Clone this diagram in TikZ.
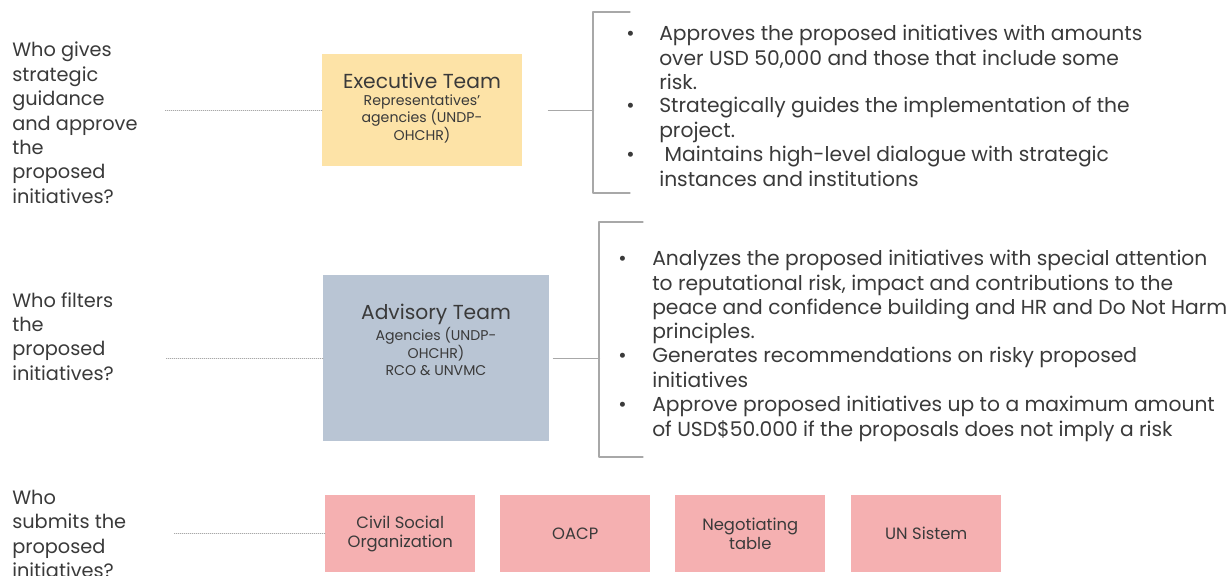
\documentclass[tikz,border=0pt]{standalone}
\usepackage{fontspec}
\setmainfont{Poppins}
\usetikzlibrary{positioning}
\definecolor{ink}{HTML}{3A3A3A}
\definecolor{rulegray}{HTML}{A8A8A8}
\definecolor{execfill}{HTML}{FDE3A7}
\definecolor{advfill}{HTML}{B9C5D4}
\definecolor{subfill}{HTML}{F5B0B1}
\tikzset{
  every picture/.style={line join=round, line cap=round, text=ink},
  question/.style={anchor=north west, align=left, inner sep=0pt, font=\fontsize{14.5}{18.3}\selectfont},
  teambox/.style={draw=none, inner sep=0pt, anchor=north west},
  teamtitle/.style={inner sep=0pt, align=center, font=\fontsize{15.2}{17}\selectfont},
  teamsub/.style={inner sep=0pt, align=center, font=\fontsize{10.6}{13}\selectfont},
  source/.style={fill=subfill, anchor=north west, inner sep=0pt, minimum width=112.5pt, minimum height=57.75pt, align=center, font=\fontsize{12.3}{14.3}\selectfont},
  bullet/.style={anchor=north west, inner sep=0pt, font=\fontsize{15.2}{18.3}\selectfont},
  duty/.style={anchor=north west, inner sep=0pt, align=left, font=\fontsize{15.2}{18.3}\selectfont},
  guide/.style={rulegray, densely dotted, line width=0.5pt},
  link/.style={rulegray, line width=0.9pt},
}
\newcommand{\bulletmark}{\vphantom{Ahl}•}
\begin{document}
\begin{tikzpicture}[x=0.75pt,y=-0.75pt]
\useasboundingbox[fill=white] (0,0) rectangle (1232,575);

% questions on the left
\node[question] (q1) at (12,42) {Who gives\\strategic\\guidance\\and approve\\the\\proposed\\initiatives?};
\node[question] (q2) at (12,292) {Who filters\\the\\proposed\\initiatives?};
\node[question] (q3) at (12,490) {Who\\submits the\\proposed\\initiatives?};

% executive team
\node[teambox, fill=execfill, minimum width=150pt, minimum height=84pt] (exec) at (322,54) {};
\node[teamtitle] (exectitle) at (422,81) {Executive Team};
\node[teamsub, below=4pt of exectitle] (execsub) {Representatives'\\agencies (UNDP-\\OHCHR)};

% advisory team
\node[teambox, fill=advfill, minimum width=169.5pt, minimum height=124.5pt] (adv) at (323,275) {};
\node[teamtitle] (advtitle) at (436,314) {Advisory Team};
\node[teamsub, below=2pt of advtitle] (advsub) {Agencies (UNDP-\\OHCHR)\\RCO \& UNVMC};

% proposal sources
\node[source] (csoc) at (325,495) {Civil Social\\Organization};
\node[source] (oacp) at (500,495) {OACP};
\node[source] (negot) at (675,495) {Negotiating\\table};
\node[source] (unsys) at (851,495) {UN Sistem};

\draw[guide] (exec.west) -- ++(-157,0);
\draw[guide] (adv.west) -- ++(-158,0);
\draw[guide] (csoc.west) -- ++(-152,0);

% brackets with the duties
\coordinate (b1top) at (630,12);
\coordinate (b1bot) at (630,193);
\coordinate (b2top) at (643,222);
\coordinate (b2bot) at (643,457);
\draw[link] (b1top) -- (b1top -| 593,0) -- (b1bot -| 593,0) -- (b1bot);
\draw[link] (b2top) -- (b2top -| 599,0) -- (b2bot -| 599,0) -- (b2bot);
\draw[link] (exec.east) ++(26,0) -- ++(45,0);
\draw[link] (adv.east) ++(4,0) -- ++(46,0);

\node[bullet] (e1) at (626,25) {\bulletmark};
\node[duty] (d1) at (659,25) {Approves the proposed initiatives with amounts\\over USD 50,000 and those that include some\\risk.};
\node[bullet] (e2) at (626,97) {\bulletmark};
\node[duty] (d2) at (659,97) {Strategically guides the implementation of the\\project.};
\node[bullet] (e3) at (626,146) {\bulletmark};
\node[duty] (d3) at (659,146) {\ Maintains high-level dialogue with strategic\\instances and institutions};

\node[bullet] (a1) at (618,250) {\bulletmark};
\node[duty] (g1) at (652,250) {Analyzes the proposed initiatives with special attention\\to reputational risk, impact and contributions to the\\peace and confidence building and HR and Do Not Harm\\principles.};
\node[bullet] (a2) at (618,347) {\bulletmark};
\node[duty] (g2) at (652,347) {Generates recommendations on risky proposed\\initiatives};
\node[bullet] (a3) at (618,396) {\bulletmark};
\node[duty] (g3) at (652,396) {Approve proposed initiatives up to a maximum amount\\of USD\$50.000 if the proposals does not imply a risk};
\end{tikzpicture}
\end{document}
